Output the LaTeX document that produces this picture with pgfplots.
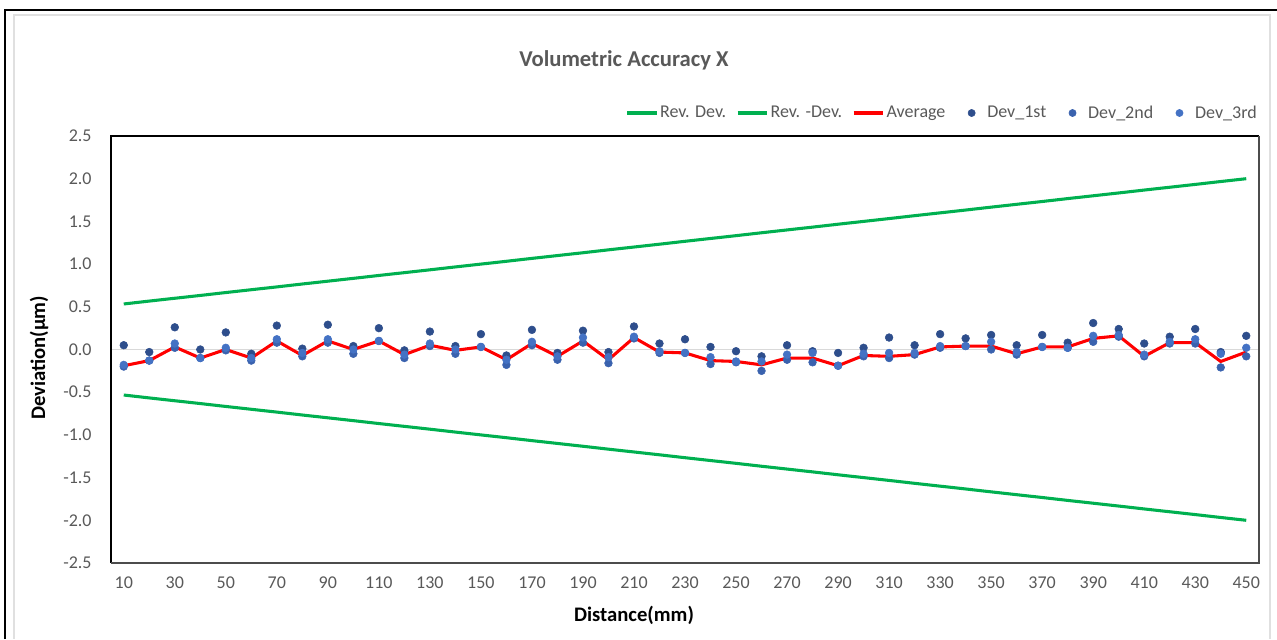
\documentclass[border=0pt]{standalone}
\usepackage{fontspec}
\setmainfont{Carlito}
\usepackage{pgfplots}
\pgfplotsset{compat=1.18}
\usepackage{pgfplotstable}

\definecolor{txtgray}{HTML}{595959}
\definecolor{revgreen}{HTML}{00B050}
\definecolor{avgred}{HTML}{FF0000}
\definecolor{devA}{HTML}{2E4E8C}
\definecolor{devB}{HTML}{3A62AE}
\definecolor{devC}{HTML}{4472C4}

\pgfplotsset{
    lineleg/.style={legend image code/.code={\draw[##1] (0pt,0pt) -- (22pt,0pt);}},
    dotleg/.style={legend image code/.code={\path (0pt,0pt) (22pt,0pt); \fill[#1] (12pt,0pt) circle (2.7pt);}},
}

% x  rev  revneg  avg  d1  d2  d3
\pgfplotstableread{
x   rev    revn    avg    d1     d2     d3
10  0.533  -0.533  -0.19  0.05   -0.20  -0.18
20  0.567  -0.567  -0.13  -0.03  -0.13  -0.13
30  0.600  -0.600  0.03   0.26   0.02   0.07
40  0.633  -0.633  -0.10  0.00   -0.10  -0.10
50  0.667  -0.667  0.00   0.20   -0.01  0.02
60  0.700  -0.700  -0.10  -0.05  -0.13  -0.10
70  0.733  -0.733  0.10   0.28   0.08   0.12
80  0.767  -0.767  -0.07  0.01   -0.08  -0.04
90  0.800  -0.800  0.10   0.29   0.08   0.12
100 0.833  -0.833  0.00   0.04   -0.05  0.00
110 0.867  -0.867  0.10   0.25   0.10   0.10
120 0.900  -0.900  -0.06  -0.01  -0.10  -0.06
130 0.933  -0.933  0.05   0.21   0.04   0.07
140 0.967  -0.967  -0.01  0.04   -0.05  0.00
150 1.000  -1.000  0.03   0.18   0.03   0.03
160 1.033  -1.033  -0.12  -0.07  -0.18  -0.12
170 1.067  -1.067  0.07   0.23   0.05   0.09
180 1.100  -1.100  -0.08  -0.04  -0.12  -0.08
190 1.133  -1.133  0.10   0.22   0.08   0.14
200 1.167  -1.167  -0.12  -0.03  -0.16  -0.09
210 1.200  -1.200  0.14   0.27   0.13   0.15
220 1.233  -1.233  -0.03  0.07   -0.04  -0.02
230 1.267  -1.267  -0.04  0.12   -0.04  -0.04
240 1.300  -1.300  -0.13  0.03   -0.17  -0.09
250 1.333  -1.333  -0.14  -0.02  -0.15  -0.14
260 1.367  -1.367  -0.18  -0.08  -0.25  -0.14
270 1.400  -1.400  -0.10  0.05   -0.12  -0.06
280 1.433  -1.433  -0.10  -0.02  -0.15  -0.04
290 1.467  -1.467  -0.19  -0.04  -0.19  -0.19
300 1.500  -1.500  -0.07  0.02   -0.08  -0.05
310 1.533  -1.533  -0.08  0.14   -0.10  -0.04
320 1.567  -1.567  -0.06  0.05   -0.06  -0.04
330 1.600  -1.600  0.03   0.18   0.02   0.04
340 1.633  -1.633  0.04   0.13   0.04   0.04
350 1.667  -1.667  0.04   0.17   0.00   0.09
360 1.700  -1.700  -0.05  0.05   -0.06  -0.03
370 1.733  -1.733  0.03   0.17   0.03   0.03
380 1.767  -1.767  0.03   0.08   0.02   0.02
390 1.800  -1.800  0.13   0.31   0.09   0.16
400 1.833  -1.833  0.16   0.24   0.15   0.17
410 1.867  -1.867  -0.08  0.07   -0.08  -0.06
420 1.900  -1.900  0.08   0.15   0.07   0.09
430 1.933  -1.933  0.08   0.24   0.07   0.12
440 1.967  -1.967  -0.14  -0.03  -0.21  -0.05
450 2.000  -2.000  -0.03  0.16   -0.08  0.02
}\datatable

\begin{document}
\begin{tikzpicture}[x=0.75pt,y=0.75pt]
\useasboundingbox (0,0) rectangle (1277,639);
% chart frame
\draw[black, line width=2.2pt] (5,0) -- (5,629) -- (1277,629);
\draw[black!12, line width=1pt] (14,0) -- (14,624) -- (1270,624) -- (1270,0);
% title and axis labels
\node[text=txtgray, font=\bfseries\fontsize{17}{20}\selectfont] at (624,579) {Volumetric Accuracy X};
\node[rotate=90, font=\bfseries\fontsize{15.5}{18}\selectfont] at (39,281) {Deviation(µm)};
\node[font=\bfseries\fontsize{15.5}{18}\selectfont] at (634,24) {Distance(mm)};

\begin{axis}[
    at={(83.25pt,57pt)}, anchor=south west,
    scale only axis, width=861pt, height=320.25pt,
    xmin=5, xmax=455, ymin=-2.5, ymax=2.5,
    clip=false,
    axis line style={draw=none},
    major tick length=0pt,
    xtick={10,30,...,450},
    ytick={-2.5,-2,...,2.5},
    yticklabels={-2.5,-2.0,-1.5,-1.0,-0.5,0.0,0.5,1.0,1.5,2.0,2.5},
    /pgf/number format/assume math mode=true,
    ticklabel style={text=txtgray, font=\fontsize{13.5}{16}\selectfont},
    yticklabel style={xshift=-11pt},
    xticklabel style={yshift=-7pt},
    legend columns=6,
    legend style={at={(rel axis cs:1,1)}, anchor=east, yshift=17.25pt,
        draw=none, fill=none, inner sep=0pt,
        font=\fontsize{13.5}{16}\selectfont, text=txtgray,
        nodes={inner xsep=1.5pt, inner ysep=1pt},
        /tikz/every even column/.append style={column sep=6pt}},
    legend cell align=left,
]
% zero line
\addplot[black!15, line width=0.8pt, forget plot] coordinates {(5,0) (455,0)};
\addplot[revgreen, line width=2.3pt, no marks, lineleg]
    table[x=x, y=rev] {\datatable};
\addlegendentry{Rev. Dev.}
\addplot[revgreen, line width=2.3pt, no marks, lineleg]
    table[x=x, y=revn] {\datatable};
\addlegendentry{Rev. -Dev.}
\addplot[avgred, line width=2.3pt, no marks, lineleg]
    table[x=x, y=avg] {\datatable};
\addlegendentry{Average}
\addplot[only marks, mark=*, mark size=2.9pt, color=devA, dotleg=devA]
    table[x=x, y=d1] {\datatable};
\addlegendentry{Dev\_1st}
\addplot[only marks, mark=*, mark size=2.9pt, color=devB, dotleg=devB]
    table[x=x, y=d2] {\datatable};
\addlegendentry{Dev\_2nd}
\addplot[only marks, mark=*, mark size=2.9pt, color=devC, dotleg=devC]
    table[x=x, y=d3] {\datatable};
\addlegendentry{Dev\_3rd}
% plot area box
\draw[black, line width=0.8pt] (rel axis cs:0,0) -- (rel axis cs:0,1) -- (rel axis cs:1,1);
\draw[black!70, line width=0.8pt] (rel axis cs:1,1) -- (rel axis cs:1,0) -- (rel axis cs:0,0);
\end{axis}
\end{tikzpicture}
\end{document}
